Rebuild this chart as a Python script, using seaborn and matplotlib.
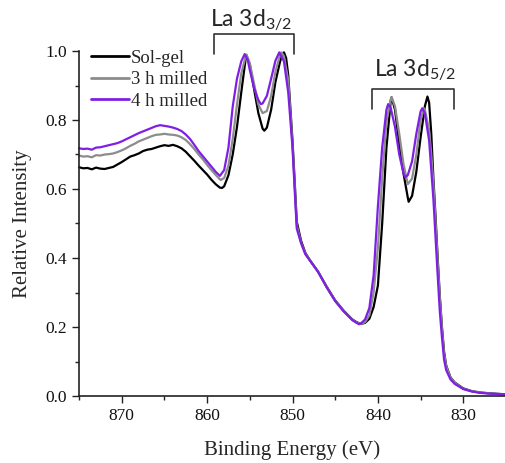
import numpy as np
import pandas as pd
import matplotlib
matplotlib.use("Agg")
import matplotlib.pyplot as plt
import seaborn as sns
from matplotlib.ticker import MultipleLocator

# ---------------- data ----------------
series_names = ["Sol-gel", "3 h milled", "4 h milled"]
series_colors = ["#000000", "#8c8c8c", "#7f1fe6"]

broad_e = [875, 874.5, 874, 873.5, 873, 872.5, 872, 871.5, 871, 870.5, 870, 869.5, 869,
           868.5, 868, 867.5, 867, 866.5, 866, 865.5, 865, 864.5, 864, 863.5, 863,
           862.5, 862, 861.5, 861, 860.5, 860, 859.5, 859]

solgel_broad = [0.663, 0.660, 0.661, 0.657, 0.662, 0.659, 0.658, 0.661, 0.664, 0.671, 0.678,
                0.686, 0.694, 0.698, 0.703, 0.710, 0.714, 0.716, 0.720, 0.724, 0.727, 0.725,
                0.728, 0.724, 0.718, 0.708, 0.695, 0.682, 0.668, 0.655, 0.642, 0.627, 0.614]
gel_e_tail = [858.5, 858.25, 858, 857.5, 857, 856.5, 856, 855.5, 855.4, 855, 854.5, 854,
              853.5, 853.3, 853, 852.5, 852, 851.5, 851.25, 851, 850.75, 850.5, 850,
              849.75, 849.5, 849, 848.5, 848, 847, 846, 845, 844, 843, 842.5, 842, 841.5,
              841, 840.5, 840, 839.5, 839, 838.5, 838.4, 838, 837.5, 837, 836.5, 836.4,
              836, 835.5, 835, 834.5, 834.2, 834, 833.75, 833.5, 833.25, 833, 832.75,
              832.5, 832.25, 832, 831.5, 831, 830, 829, 828, 827, 826, 825]
solgel_tail = [0.604, 0.603, 0.608, 0.640, 0.700, 0.780, 0.880, 0.975, 0.988, 0.960, 0.890,
               0.820, 0.775, 0.769, 0.778, 0.830, 0.910, 0.965, 0.988, 0.996, 0.980, 0.930,
               0.740, 0.625, 0.505, 0.450, 0.415, 0.395, 0.360, 0.317, 0.277, 0.247, 0.222,
               0.214, 0.209, 0.212, 0.224, 0.258, 0.320, 0.500, 0.720, 0.855, 0.866, 0.830,
               0.730, 0.645, 0.575, 0.563, 0.580, 0.650, 0.750, 0.840, 0.868, 0.850, 0.760,
               0.630, 0.520, 0.400, 0.290, 0.200, 0.128, 0.088, 0.054, 0.039, 0.022, 0.014,
               0.010, 0.008, 0.006, 0.005]

milled3_broad = [0.697, 0.694, 0.695, 0.692, 0.698, 0.697, 0.700, 0.701, 0.703, 0.707, 0.712,
                 0.718, 0.725, 0.731, 0.738, 0.743, 0.748, 0.753, 0.757, 0.758, 0.760, 0.758,
                 0.757, 0.755, 0.750, 0.742, 0.730, 0.716, 0.700, 0.686, 0.670, 0.655, 0.641]
milled3_e_tail = [858.5, 858.4, 858, 857.5, 857, 856.5, 856, 855.5, 855.4, 855, 854.5, 854,
                  853.5, 853, 852.5, 852, 851.5, 851.3, 851, 850.5, 850, 849.75, 849.5,
                  849, 848.5, 848, 847, 846, 845, 844, 843, 842.5, 842, 841.5, 841, 840.5,
                  840, 839.5, 839, 838.5, 838.4, 838, 837.5, 837, 836.5, 836, 835.5, 835,
                  834.6, 834.5, 834, 833.75, 833.5, 833.25, 833, 832.75, 832.5, 832.25, 832,
                  831.5, 831, 830, 829, 828, 827, 826, 825]
milled3_tail = [0.628, 0.626, 0.632, 0.668, 0.745, 0.845, 0.935, 0.983, 0.990, 0.965, 0.905,
                0.845, 0.820, 0.826, 0.870, 0.940, 0.985, 0.996, 0.985, 0.915, 0.730, 0.615,
                0.495, 0.445, 0.413, 0.395, 0.360, 0.316, 0.276, 0.246, 0.221, 0.213, 0.209,
                0.214, 0.234, 0.300, 0.430, 0.630, 0.795, 0.860, 0.866, 0.840, 0.760, 0.672,
                0.614, 0.630, 0.700, 0.800, 0.834, 0.830, 0.770, 0.700, 0.615, 0.505, 0.390,
                0.285, 0.195, 0.123, 0.086, 0.053, 0.038, 0.021, 0.014, 0.010, 0.008, 0.006,
                0.005]

milled4_broad = [0.718, 0.716, 0.717, 0.714, 0.720, 0.721, 0.724, 0.727, 0.730, 0.733, 0.738,
                 0.744, 0.750, 0.756, 0.762, 0.767, 0.772, 0.777, 0.782, 0.785, 0.783, 0.781,
                 0.778, 0.774, 0.768, 0.758, 0.745, 0.728, 0.710, 0.695, 0.680, 0.665, 0.650]
milled4_e_tail = [858.5, 858, 857.5, 857, 856.5, 856, 855.6, 855.25, 855, 854.5, 854, 853.7,
                  853.5, 853, 852.5, 852, 851.55, 851, 850.5, 850, 849.75, 849.5, 849, 848.5,
                  848, 847, 846, 845, 844, 843, 842.5, 842.2, 842, 841.5, 841, 840.5, 840,
                  839.5, 839, 838.8, 838.5, 838, 837.5, 837, 836.8, 836.5, 836, 835.5, 835,
                  834.8, 834.5, 834, 833.5, 833.25, 833, 832.75, 832.5, 832.25, 832, 831.5,
                  831, 830, 829, 828, 827, 826, 825]
milled4_tail = [0.638, 0.655, 0.720, 0.839, 0.920, 0.970, 0.991, 0.975, 0.945, 0.893, 0.858,
                0.846, 0.848, 0.870, 0.920, 0.972, 0.996, 0.970, 0.880, 0.720, 0.600, 0.485,
                0.443, 0.411, 0.394, 0.360, 0.315, 0.275, 0.245, 0.220, 0.212, 0.208, 0.210,
                0.222, 0.255, 0.350, 0.550, 0.720, 0.830, 0.846, 0.835, 0.780, 0.700, 0.645,
                0.634, 0.640, 0.680, 0.760, 0.825, 0.834, 0.820, 0.740, 0.570, 0.460, 0.350,
                0.245, 0.170, 0.105, 0.075, 0.048, 0.035, 0.020, 0.013, 0.009, 0.007, 0.006,
                0.005]

x_ticks = [870, 860, 850, 840, 830]
y_ticks = [0.0, 0.2, 0.4, 0.6, 0.8, 1.0]

# ---------------- build long table ----------------
frames = []
for name, eb, ib, et, it in [
    ("Sol-gel", broad_e, solgel_broad, gel_e_tail, solgel_tail),
    ("3 h milled", broad_e, milled3_broad, milled3_e_tail, milled3_tail),
    ("4 h milled", broad_e, milled4_broad, milled4_e_tail, milled4_tail),
]:
    e = list(eb) + list(et)
    i = list(ib) + list(it)
    frames.append(pd.DataFrame({"energy": e, "intensity": i, "sample": name}))
df = pd.concat(frames, ignore_index=True)

# ---------------- styling ----------------
sns.set_theme(style="ticks")
plt.rcParams["font.family"] = ["Liberation Serif", "DejaVu Serif"]
plt.rcParams["mathtext.fontset"] = "custom"
plt.rcParams["mathtext.rm"] = "Lato"
plt.rcParams["mathtext.it"] = "Lato:italic"

fig = plt.figure(figsize=(5.06, 4.63), dpi=100)
ax = fig.add_axes([79 / 506, 1 - 396 / 463, 427 / 506, (396 - 51) / 463])

sns.lineplot(data=df, x="energy", y="intensity", hue="sample",
             hue_order=series_names, palette=series_colors,
             estimator=None, sort=False, linewidth=1.6, ax=ax)

ax.set_xlim(875, 825)
ax.set_ylim(0, 1.0)
ax.set_xticks(x_ticks)
ax.set_yticks(y_ticks)
ax.set_yticklabels([f"{v:.1f}" for v in y_ticks])
ax.xaxis.set_minor_locator(MultipleLocator(5))
ax.yaxis.set_minor_locator(MultipleLocator(0.1))
ax.tick_params(which="major", direction="out", length=5, width=1, labelsize=12.5,
               colors="#222222", labelcolor="#111111")
ax.tick_params(which="minor", direction="out", length=3, width=1, colors="#222222")
for s in ["top", "right"]:
    ax.spines[s].set_visible(False)
for s in ["left", "bottom"]:
    ax.spines[s].set_linewidth(1.2)
    ax.spines[s].set_color("#222222")

ax.set_xlabel("Binding Energy (eV)", fontsize=15, labelpad=12)
ax.set_ylabel("Relative Intensity", fontsize=15, labelpad=10)

leg = ax.legend(loc="upper left", bbox_to_anchor=(0.01, 1.025), frameon=False,
                fontsize=13.5, handlelength=2.05, handletextpad=0.1,
                labelspacing=0.22, borderaxespad=0)
for line in leg.get_lines():
    line.set_linewidth(2)

for line in ax.get_lines():
    line.set_clip_on(False)

# brackets + labels
bk = dict(color="#333333", lw=1.2, clip_on=False)
ax.plot([859.25, 859.25, 849.8, 849.8], [0.991, 1.048, 1.048, 0.991], **bk)
ax.plot([840.7, 840.7, 831.1, 831.1], [0.832, 0.889, 0.889, 0.832], **bk)
ax.text(854.9, 1.072, "La 3d$_{\\mathrm{3/2}}$", family="Lato", fontsize=16.5,
        ha="center", va="baseline", clip_on=False)
ax.text(835.7, 0.925, "La 3d$_{\\mathrm{5/2}}$", family="Lato", fontsize=16.5,
        ha="center", va="baseline", clip_on=False)

fig.savefig("out.png", dpi=100)
